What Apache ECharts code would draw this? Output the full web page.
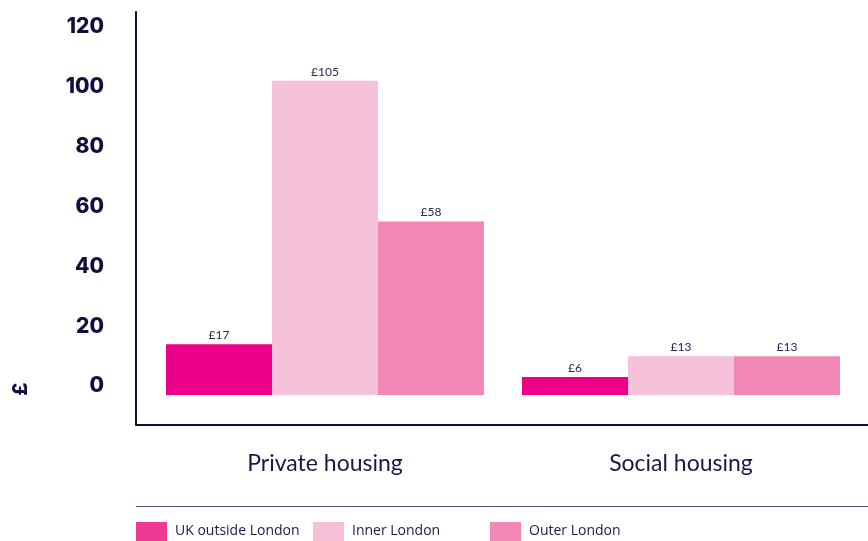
<!DOCTYPE html>
<html>
<head>
<meta charset="utf-8">
<script src="https://cdn.jsdelivr.net/npm/echarts@6/dist/echarts.min.js"></script>
<style>html,body{margin:0;padding:0;background:#fff}#c{width:868px;height:541px}</style>
</head>
<body>
<div id="c"></div>
<script>
var categories = ['Private housing', 'Social housing'];
var seriesNames = ['UK outside London', 'Inner London', 'Outer London'];
var ukOutsideLondon = [17, 6];
var innerLondon = [105, 13];
var outerLondon = [58, 13];
var yTickValues = [0, 20, 40, 60, 80, 100, 120];

var barColors = ['#EC0089', '#F6C2D9', '#F187B5'];
var legendColors = ['#EF3A93', '#F7C0D8', '#F288B6'];
var legendLefts = [136, 313, 490];
var navy = '#110d3d';

var chart = echarts.init(document.getElementById('c'), null, {renderer: 'canvas'});
function mk(name, data, i) {
  return {
    name: name, type: 'bar', data: data, barWidth: 106, barGap: '0%',
    itemStyle: {color: barColors[i]},
    label: {show: true, position: 'top', distance: 3, formatter: '£{c}',
      color: '#2a2656', fontSize: 12, fontFamily: 'Lato'}
  };
}
chart.setOption({
  animation: false,
  grid: {left: 147, right: 9, top: 12, bottom: 116, containLabel: false},
  xAxis: {
    type: 'category', data: categories,
    axisLine: {show: false}, axisTick: {show: false},
    axisLabel: {margin: 27, fontSize: 23, color: '#1c1846', fontFamily: 'Lato'}
  },
  yAxis: {
    type: 'value', min: -10, max: 128, offset: 11,
    splitLine: {show: false}, axisTick: {show: false},
    axisLine: {show: true, lineStyle: {color: navy, width: 2}},
    axisLabel: {customValues: yTickValues, margin: 32, fontSize: 21, fontWeight: 800,
      fontFamily: 'Inter', color: navy, verticalAlign: 'bottom', lineHeight: 18}
  },
  legend: seriesNames.map(function (n, i) {
    return {
      left: legendLefts[i], top: 522, padding: 0, itemWidth: 31, itemHeight: 19,
      icon: 'rect', selectedMode: false,
      data: [{name: n, itemStyle: {color: legendColors[i]}}],
      textStyle: {fontSize: 14, color: '#1c1a4a', fontFamily: 'Open Sans', padding: [0, 0, 0, 3]}
    };
  }),
  graphic: [
    {type: 'line', shape: {x1: 136, y1: 425, x2: 868, y2: 425}, style: {stroke: navy, lineWidth: 2}},
    {type: 'line', shape: {x1: 136, y1: 506.5, x2: 868, y2: 506.5}, style: {stroke: '#55537a', lineWidth: 1}},
    {type: 'text', x: 21, y: 389, rotation: Math.PI / 2,
      style: {text: '£', font: '800 20px Inter', fill: navy, textAlign: 'center', textVerticalAlign: 'middle'}}
  ],
  series: [mk(seriesNames[0], ukOutsideLondon, 0), mk(seriesNames[1], innerLondon, 1), mk(seriesNames[2], outerLondon, 2)]
});
</script>
</body>
</html>
